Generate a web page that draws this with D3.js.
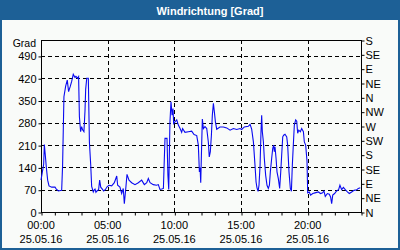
<!DOCTYPE html>
<html>
<head>
<meta charset="utf-8">
<script src="https://cdn.jsdelivr.net/npm/d3@7"></script>
<style>
  body { margin: 0; background: #fff; }
  svg { display: block; font-family: 'Liberation Sans', Arial, sans-serif; }
</style>
</head>
<body>
<div id="chart"></div>
<script>
// hours since 00:00 on 25.05.16
const hours = [
  0.0, 0.1, 0.2, 0.25, 0.33, 0.4, 0.5, 0.6, 0.8, 1.05, 1.15, 1.3, 1.55, 1.62, 1.72, 1.85, 1.97,
  2.07, 2.2, 2.3, 2.42, 2.55, 2.62, 2.75, 2.82, 2.88, 2.97, 3.05, 3.12, 3.22, 3.3, 3.35, 3.43,
  3.55, 3.63, 3.73, 3.8, 3.92, 4.0, 4.05, 4.12, 4.2, 4.32, 4.4, 4.48, 4.6, 4.7, 4.82, 4.97,
  5.1, 5.3, 5.5, 5.68, 5.75, 5.92, 6.05, 6.17, 6.25, 6.35, 6.45, 6.6, 6.8, 7.05, 7.3, 7.55,
  7.75, 7.93, 8.05, 8.18, 8.42, 8.67, 8.8, 8.92, 9.05, 9.18, 9.25, 9.3, 9.45, 9.52, 9.58,
  9.67, 9.75, 9.83, 9.9, 9.95, 10.05, 10.18, 10.3, 10.43, 10.55, 10.62, 10.8, 11.05, 11.3,
  11.48, 11.68, 11.8, 11.88, 11.93, 11.98, 12.03, 12.1, 12.18, 12.3, 12.43, 12.55, 12.62,
  12.7, 12.78, 12.85, 12.93, 13.0, 13.08, 13.18, 13.42, 13.68, 13.93, 14.18, 14.43, 14.68,
  14.93, 15.05, 15.25, 15.55, 15.68, 15.8, 15.93, 16.05, 16.13, 16.2, 16.28, 16.35, 16.43,
  16.5, 16.55, 16.6, 16.68, 16.75, 16.85, 16.95, 17.05, 17.13, 17.2, 17.3, 17.38, 17.45,
  17.5, 17.55, 17.63, 17.7, 17.8, 17.9, 17.98, 18.05, 18.13, 18.2, 18.3, 18.43, 18.5, 18.6,
  18.7, 18.78, 18.85, 18.93, 19.0, 19.1, 19.18, 19.25, 19.33, 19.45, 19.55, 19.68, 19.75,
  19.85, 19.95, 20.0, 20.12, 20.22, 20.38, 20.55, 20.8, 20.97, 21.12, 21.22, 21.32, 21.48,
  21.62, 21.72, 21.8, 21.88, 22.02, 22.17, 22.32, 22.42, 22.55, 22.68, 22.82, 22.98, 23.12,
  23.3, 23.48, 23.68, 23.8, 23.95,
];
// wind direction in degrees
const grad = [
  100, 125, 150, 212, 175, 140, 100, 82, 78, 78, 72, 66, 68, 147, 362, 395, 414,
  378, 395, 410, 432, 422, 426, 420, 425, 300, 252, 268, 258, 252, 318, 385, 420,
  420, 220, 147, 80, 63, 70, 72, 62, 66, 70, 100, 78, 72, 66, 70, 80,
  84, 82, 92, 113, 84, 78, 58, 74, 26, 70, 118, 100, 92, 86, 92, 100,
  86, 92, 105, 92, 86, 84, 86, 71, 72, 74, 168, 231, 231, 115, 71,
  281, 346, 304, 325, 278, 283, 289, 273, 262, 250, 262, 250, 252, 254,
  243, 240, 210, 126, 140, 92, 178, 292, 262, 268, 262, 220, 173,
  189, 241, 304, 341, 315, 283, 260, 267, 267, 264, 257, 262, 259,
  262, 259, 267, 269, 275, 260, 220, 147, 94, 76, 65, 84, 147,
  252, 304, 252, 220, 168, 115, 84, 74, 84, 126, 168, 200, 210,
  189, 205, 168, 126, 105, 74, 126, 178, 236, 241, 244, 236, 210, 126,
  74, 65, 147, 215, 273, 289, 285, 247, 257, 252, 262, 252, 220,
  210, 160, 60, 63, 53, 58, 60, 63, 58, 60, 66, 49, 58,
  56, 47, 26, 53, 58, 66, 70, 84, 70, 77, 70, 63, 58,
  63, 68, 70, 74, 76,
];

const title = 'Windrichtung [Grad]';
const yTicks = [0, 70, 140, 210, 280, 350, 420, 490];
const dirTicks = [0, 45, 90, 135, 180, 225, 270, 315, 360, 405, 450, 495, 540];
const dirLabels = ['N', 'NE', 'E', 'SE', 'S', 'SW', 'W', 'NW', 'N', 'NE', 'E', 'SE', 'S'];
const timeTicks = [0, 5, 10, 15, 20];
const timeLabels = ['00:00', '05:00', '10:00', '15:00', '20:00'];
const dateLabel = '25.05.16';

const size = { width: 400, height: 250 };
const margin = { top: 40, right: 39, bottom: 38, left: 41 };
const blue = '#1d6096';

const svg = d3
  .select('#chart')
  .append('svg')
  .attr('width', size.width)
  .attr('height', size.height);

// frame + title bar
svg.append('rect')
  .attr('x', 0).attr('y', 0)
  .attr('width', size.width).attr('height', size.height)
  .attr('fill', '#f9fbf9');
svg.append('rect')
  .attr('x', 1).attr('y', 1)
  .attr('width', size.width - 2).attr('height', size.height - 2)
  .attr('fill', 'none')
  .attr('stroke', blue)
  .attr('stroke-width', 2);
svg.append('rect')
  .attr('x', 0).attr('y', 0)
  .attr('width', size.width).attr('height', 20)
  .attr('fill', blue);
svg.append('text')
  .attr('x', size.width / 2 + 10)
  .attr('y', 14.5)
  .attr('text-anchor', 'middle')
  .attr('fill', 'white')
  .attr('font-weight', 'bold')
  .attr('font-size', 11)
  .text(title);

const x = d3.scaleLinear()
  .domain([0, 24])
  .range([margin.left, size.width - margin.right]);
const y = d3.scaleLinear()
  .domain([0, 540])
  .range([size.height - margin.bottom, margin.top]);

// dashed grid
const grid = svg.append('g')
  .attr('stroke', 'black')
  .attr('stroke-dasharray', '4,3')
  .attr('shape-rendering', 'crispEdges');
grid.selectAll('.h')
  .data(yTicks.filter((d) => d > 0))
  .enter()
  .append('line')
  .attr('x1', x(0)).attr('x2', x(24))
  .attr('y1', (d) => Math.round(y(d)) + 0.5)
  .attr('y2', (d) => Math.round(y(d)) + 0.5);
grid.selectAll('.v')
  .data(timeTicks.filter((d) => d > 0))
  .enter()
  .append('line')
  .attr('y1', y(0)).attr('y2', y(540))
  .attr('x1', (d) => Math.round(x(d)) + 0.5)
  .attr('x2', (d) => Math.round(x(d)) + 0.5);

// plot box
svg.append('rect')
  .attr('x', x(0) + 0.5).attr('y', y(540) + 0.5)
  .attr('width', x(24) - x(0)).attr('height', y(0) - y(540))
  .attr('fill', 'none')
  .attr('stroke', 'black')
  .attr('shape-rendering', 'crispEdges');

// data line
const line = d3.line()
  .x((d) => x(d[0]))
  .y((d) => y(d[1]));
svg.append('path')
  .datum(hours.map((h, i) => [h, grad[i]]))
  .attr('d', line)
  .attr('fill', 'none')
  .attr('stroke', '#0a0af0')
  .attr('stroke-width', 1.1);

// left axis
const leftAxis = svg.append('g')
  .attr('transform', `translate(${x(0) + 0.5},0.5)`)
  .call(d3.axisLeft(y).tickValues(yTicks).tickSize(3).tickPadding(2));
leftAxis.select('.domain').remove();
leftAxis.selectAll('text').attr('font-size', 11).attr('fill', 'black').attr('font-family', null);
svg.append('text')
  .attr('x', 36).attr('y', 47)
  .attr('text-anchor', 'end')
  .attr('font-size', 10.5)
  .text('Grad');

// right axis (compass)
const rightAxis = svg.append('g')
  .attr('transform', `translate(${x(24) + 0.5},0.5)`)
  .call(d3.axisRight(y).tickValues(dirTicks).tickSize(3).tickPadding(1)
    .tickFormat((d, i) => dirLabels[i]));
rightAxis.select('.domain').remove();
rightAxis.selectAll('text').attr('font-size', 11).attr('fill', 'black').attr('font-family', null);

// bottom axis: hourly ticks
const hourTicks = d3.range(0, 25);
svg.append('g')
  .attr('transform', `translate(0.5,${y(0) + 0.5})`)
  .call(d3.axisBottom(x).tickValues(hourTicks).tickSize(3).tickFormat(''))
  .call((g) => g.select('.domain').remove());

const timeLab = svg.append('g')
  .attr('font-size', 11)
  .attr('text-anchor', 'middle');
timeLab.selectAll('.t')
  .data(timeTicks)
  .enter()
  .append('text')
  .attr('x', (d) => x(d))
  .attr('y', 229)
  .text((d, i) => timeLabels[i]);
timeLab.selectAll('.d')
  .data(timeTicks)
  .enter()
  .append('text')
  .attr('x', (d) => x(d))
  .attr('y', 243)
  .text(dateLabel);
</script>
</body>
</html>
